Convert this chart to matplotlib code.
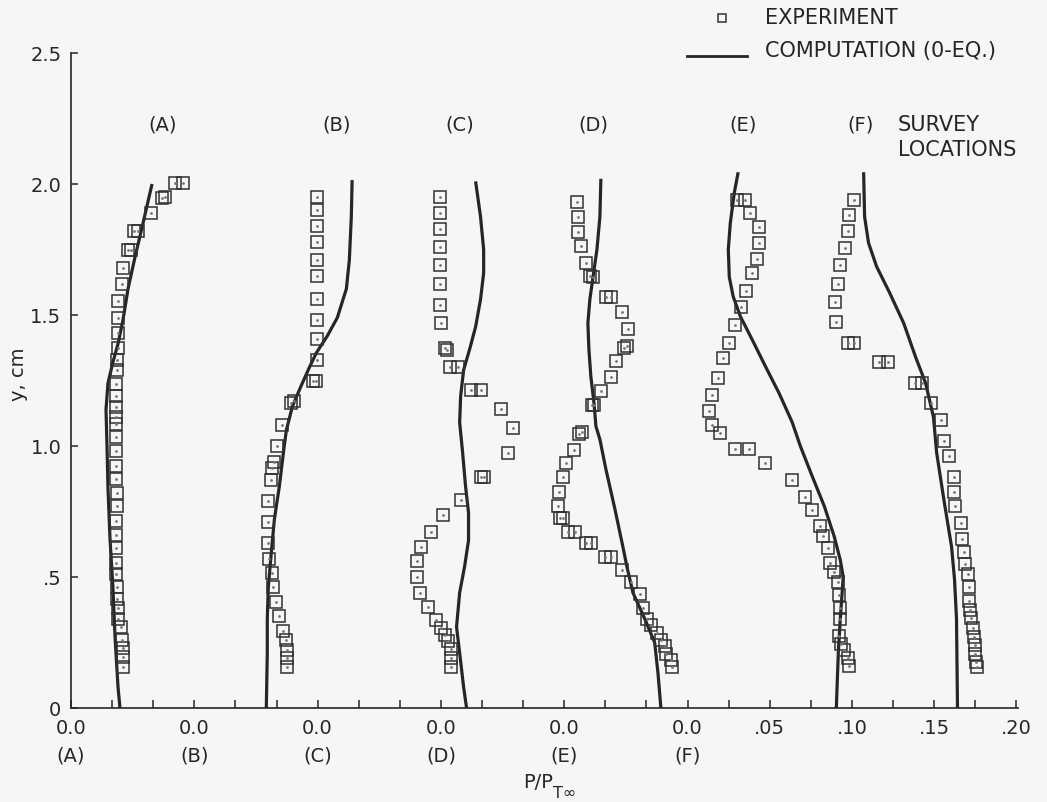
import numpy as np
import matplotlib
matplotlib.use('Agg')
import matplotlib.pyplot as plt
from matplotlib.lines import Line2D

# survey locations, each profile shifted by its own zero on the x axis
locations = ['A', 'B', 'C', 'D', 'E', 'F']
offsets = [0.0, 0.075, 0.15, 0.225, 0.30, 0.375]

# computation (0-eq.), x = P/PT_inf measured from each location's zero
calc_y_A = [0, 0.08, 0.27, 0.46, 0.65, 0.84, 1.0, 1.14, 1.24, 1.32, 1.39, 1.48, 1.60, 1.72, 1.85, 2.0]
calc_x_A = [0.0298, 0.0286, 0.0268, 0.0255, 0.0237, 0.0225, 0.0219, 0.0213, 0.0225, 0.0255, 0.0286,
            0.0316, 0.0347, 0.0389, 0.0438, 0.0493]
calc_y_B = [0, 0.21, 0.34, 0.46, 0.59, 0.72, 0.845, 1.0, 1.06, 1.15, 1.23, 1.30, 1.355, 1.42, 1.49,
            1.60, 1.71, 1.875, 2.015]
calc_x_B = [0.0438, 0.0444, 0.0444, 0.045, 0.0468, 0.0487, 0.0517, 0.0547, 0.056, 0.0596, 0.065, 0.070,
            0.0742, 0.0809, 0.087, 0.0925, 0.0943, 0.0955, 0.096]
calc_y_C = [0, 0.08, 0.21, 0.31, 0.44, 0.54, 0.64, 0.745, 0.845, 0.975, 1.09, 1.19, 1.29, 1.37, 1.455,
            1.56, 1.66, 1.75, 1.875, 2.01]
calc_x_C = [0.0906, 0.0888, 0.0864, 0.0845, 0.0864, 0.0894, 0.0918, 0.0918, 0.090, 0.0882, 0.0864, 0.087,
            0.0888, 0.0925, 0.0961, 0.0991, 0.101, 0.101, 0.0991, 0.0961]
calc_y_D = [0, 0.135, 0.25, 0.34, 0.44, 0.54, 0.615, 0.76, 0.91, 1.025, 1.075, 1.165, 1.265, 1.37, 1.47,
            1.56, 1.645, 1.75, 1.875, 2.02]
calc_x_D = [0.1338, 0.132, 0.130, 0.124, 0.1168, 0.1131, 0.1107, 0.1058, 0.1004, 0.0967, 0.0943, 0.0931,
            0.0912, 0.090, 0.0894, 0.0906, 0.0925, 0.0949, 0.0967, 0.0973]
calc_y_E = [0, 0.21, 0.34, 0.50, 0.565, 0.655, 0.77, 0.885, 1.0, 1.09, 1.20, 1.305, 1.405, 1.495, 1.57,
            1.645, 1.75, 1.85, 1.965, 2.045]
calc_x_E = [0.1655, 0.1667, 0.1679, 0.1697, 0.1679, 0.1642, 0.1582, 0.1508, 0.1436, 0.1387, 0.1308, 0.1223,
            0.1144, 0.1071, 0.1028, 0.1004, 0.0998, 0.101, 0.1034, 0.1058]
calc_y_F = [0, 0.34, 0.49, 0.615, 0.78, 0.975, 1.11, 1.24, 1.34, 1.47, 1.585, 1.685, 1.775, 1.875, 2.045]
calc_x_F = [0.1642, 0.1636, 0.1624, 0.1606, 0.1563, 0.1515, 0.1496, 0.1448, 0.1387, 0.1314, 0.1229, 0.115,
            0.1101, 0.1077, 0.1071]

# experiment
exp_y_A = [2.005, 2.005, 1.95, 1.945, 1.89, 1.82, 1.82, 1.75, 1.75, 1.68, 1.62, 1.555, 1.49, 1.43, 1.375,
           1.33, 1.29, 1.235, 1.19, 1.15, 1.11, 1.085, 1.035, 0.98, 0.925, 0.875, 0.82, 0.77, 0.715, 0.66,
           0.61, 0.555, 0.51, 0.46, 0.415, 0.38, 0.34, 0.31, 0.26, 0.23, 0.195, 0.155]
exp_x_A = [0.0681, 0.0635, 0.0572, 0.0555, 0.0487, 0.0408, 0.0385, 0.0365, 0.0345, 0.0316, 0.031, 0.0286,
           0.0286, 0.0286, 0.0286, 0.028, 0.028, 0.0274, 0.0274, 0.0274, 0.0274, 0.0274, 0.0274, 0.0274,
           0.0274, 0.0274, 0.028, 0.028, 0.0274, 0.0274, 0.0274, 0.0274, 0.0274, 0.028, 0.028, 0.0286,
           0.0286, 0.0304, 0.031, 0.0316, 0.0316, 0.0316]
exp_y_B = [1.95, 1.90, 1.84, 1.78, 1.71, 1.65, 1.56, 1.48, 1.41, 1.33, 1.25, 1.25, 1.17, 1.165, 1.08, 1.0,
           0.94, 0.915, 0.87, 0.79, 0.71, 0.63, 0.57, 0.515, 0.46, 0.405, 0.35, 0.295, 0.26, 0.22, 0.19,
           0.155]
exp_x_B = [0.0748, 0.0748, 0.0748, 0.0748, 0.0748, 0.0748, 0.0748, 0.0748, 0.0748, 0.0748, 0.0742, 0.0725,
           0.0608, 0.059, 0.0535, 0.0505, 0.0487, 0.0474, 0.0468, 0.045, 0.045, 0.045, 0.0456, 0.0474,
           0.048, 0.0498, 0.0517, 0.0541, 0.056, 0.0566, 0.0566, 0.0566]
exp_y_C = [1.95, 1.89, 1.83, 1.76, 1.69, 1.62, 1.54, 1.47, 1.375, 1.365, 1.30, 1.30, 1.215, 1.215, 1.14,
           1.07, 0.975, 0.883, 0.883, 0.795, 0.735, 0.67, 0.615, 0.56, 0.50, 0.44, 0.385, 0.335, 0.305,
           0.28, 0.255, 0.225, 0.19, 0.155]
exp_x_C = [0.0742, 0.0742, 0.0742, 0.0742, 0.0742, 0.0742, 0.0742, 0.0748, 0.0773, 0.0785, 0.0803, 0.0852,
           0.0931, 0.0991, 0.1113, 0.1186, 0.1156, 0.0991, 0.1010, 0.087, 0.076, 0.0687, 0.0627, 0.0602,
           0.0602, 0.062, 0.0669, 0.0718, 0.0748, 0.0773, 0.0791, 0.0809, 0.0809, 0.0809]
exp_y_D = [1.93, 1.875, 1.815, 1.765, 1.70, 1.65, 1.645, 1.57, 1.57, 1.51, 1.445, 1.38, 1.375, 1.325,
           1.265, 1.21, 1.155, 1.155, 1.055, 1.045, 0.985, 0.935, 0.883, 0.825, 0.77, 0.725, 0.725, 0.67,
           0.67, 0.63, 0.63, 0.575, 0.575, 0.525, 0.48, 0.435, 0.38, 0.34, 0.315, 0.285, 0.26, 0.235,
           0.205, 0.185, 0.155]
exp_x_D = [0.0827, 0.0833, 0.0833, 0.0852, 0.0882, 0.0906, 0.0925, 0.1004, 0.1034, 0.1101, 0.1137, 0.1131,
           0.1115, 0.1064, 0.1034, 0.0973, 0.0931, 0.092, 0.0858, 0.0838, 0.0809, 0.076, 0.0742, 0.0718,
           0.0712, 0.0724, 0.0745, 0.0773, 0.0815, 0.0882, 0.0912, 0.0998, 0.1034, 0.1101, 0.1156, 0.121,
           0.1229, 0.1253, 0.1277, 0.1314, 0.1338, 0.1363, 0.1369, 0.1399, 0.1405]
exp_y_E = [1.94, 1.94, 1.89, 1.835, 1.775, 1.715, 1.66, 1.59, 1.53, 1.46, 1.395, 1.335, 1.26, 1.195,
           1.135, 1.08, 1.05, 0.99, 0.99, 0.935, 0.87, 0.805, 0.755, 0.695, 0.655, 0.61, 0.555, 0.52, 0.48,
           0.43, 0.38, 0.34, 0.275, 0.245, 0.22, 0.19, 0.16]
exp_x_E = [0.1052, 0.1101, 0.1131, 0.1186, 0.1186, 0.1174, 0.1144, 0.1107, 0.1077, 0.104, 0.1004, 0.0967,
           0.0937, 0.090, 0.0882, 0.090, 0.0949, 0.104, 0.1125, 0.1223, 0.1387, 0.1466, 0.1508, 0.1557,
           0.1575, 0.1606, 0.1618, 0.1642, 0.1667, 0.1673, 0.1679, 0.1679, 0.1673, 0.1685, 0.1703, 0.1727,
           0.1734]
exp_y_F = [1.94, 1.88, 1.82, 1.755, 1.69, 1.62, 1.55, 1.475, 1.395, 1.395, 1.32, 1.32, 1.24, 1.24, 1.165,
           1.10, 1.02, 0.96, 0.88, 0.825, 0.77, 0.705, 0.645, 0.595, 0.55, 0.51, 0.46, 0.41, 0.375, 0.345,
           0.305, 0.27, 0.24, 0.205, 0.175, 0.155]
exp_x_F = [0.101, 0.0985, 0.0973, 0.0955, 0.0925, 0.0918, 0.0894, 0.0906, 0.0979, 0.1015, 0.1162, 0.1222,
           0.1381, 0.1425, 0.1478, 0.1539, 0.1557, 0.1588, 0.1618, 0.1618, 0.1624, 0.1661, 0.1667, 0.1679,
           0.1685, 0.1703, 0.1709, 0.1715, 0.1721, 0.1727, 0.1734, 0.174, 0.1746, 0.1746, 0.1752, 0.1758]

calc = {'A': (calc_x_A, calc_y_A), 'B': (calc_x_B, calc_y_B), 'C': (calc_x_C, calc_y_C),
        'D': (calc_x_D, calc_y_D), 'E': (calc_x_E, calc_y_E), 'F': (calc_x_F, calc_y_F)}
expt = {'A': (exp_x_A, exp_y_A), 'B': (exp_x_B, exp_y_B), 'C': (exp_x_C, exp_y_C),
        'D': (exp_x_D, exp_y_D), 'E': (exp_x_E, exp_y_E), 'F': (exp_x_F, exp_y_F)}

# tick labels along the bottom
x_ticks = np.round(np.arange(24) * 0.025, 3)
extra_labels = {0.425: '.05', 0.475: '.10', 0.525: '.15', 0.575: '.20'}
y_ticks = [0, 0.5, 1.0, 1.5, 2.0, 2.5]
y_labels = ['0', '.5', '1.0', '1.5', '2.0', '2.5']
# label positions of the survey location tags above the profiles
tag_x = [0.056, 0.1618, 0.2366, 0.3175, 0.4088, 0.4805]

ink = '#262626'
bg = '#f6f6f6'
plt.rcParams['font.family'] = 'DejaVu Sans'

fig = plt.figure(figsize=(10.47, 8.02), dpi=100, facecolor=bg)
ax = fig.add_axes([0.0678, 0.1172, 0.9045, 0.8167])
ax.set_facecolor(bg)

for loc, off in zip(locations, offsets):
    cx, cy = calc[loc]
    ax.plot(off + np.array(cx), cy, color=ink, lw=2.3, solid_capstyle='butt')
    ex, ey = expt[loc]
    ax.plot(off + np.array(ex), ey, ls='none', marker='s', ms=9, mfc='none', mec='#303030', mew=1.1)
    ax.plot(off + np.array(ex), ey, ls='none', marker='.', ms=2, color='#777777')

ax.set_xlim(0, 0.576)
ax.set_ylim(0, 2.5)
for s in ['top', 'right']:
    ax.spines[s].set_visible(False)
for s in ['left', 'bottom']:
    ax.spines[s].set_color(ink)
    ax.spines[s].set_linewidth(1.2)

labels = []
for t in x_ticks:
    if t in offsets:
        labels.append('0.0\n(' + locations[offsets.index(t)] + ')')
    else:
        labels.append(extra_labels.get(t, ''))
ax.set_xticks(x_ticks)
ax.set_xticklabels(labels, fontsize=14, color=ink, va='top')
for lab in ax.get_xticklabels():
    lab.set_linespacing(1.55)
ax.set_yticks(y_ticks)
ax.set_yticklabels(y_labels, fontsize=14, color=ink)
ax.tick_params(axis='x', direction='in', length=6, width=1.1, pad=8, colors=ink)
ax.tick_params(axis='y', direction='in', length=5, width=1.1, pad=7, colors=ink)

ax.set_ylabel('y, cm', fontsize=14, color=ink)
ax.yaxis.set_label_coords(-0.045, 0.51)

# x label: P/P with subscript T-infinity
fig.text(553 / 1047, 1 - 782 / 802, 'P/P', fontsize=14, color=ink, ha='right', va='center')
fig.text(553 / 1047, 1 - 793 / 802, 'T\u221e', fontsize=11.5, color=ink, ha='left', va='center')

for loc, tx in zip(locations, tag_x):
    ax.text(tx, 2.226, '(' + loc + ')', fontsize=14, color=ink, ha='center', va='center')
ax.text(0.503, 2.226, 'SURVEY', fontsize=15, color=ink, ha='left', va='center')
ax.text(0.503, 2.13, 'LOCATIONS', fontsize=15, color=ink, ha='left', va='center')

# legend drawn in figure pixels
fig.add_artist(Line2D([722 / 1047], [1 - 18 / 802], transform=fig.transFigure, ls='none', marker='s',
                      ms=6, mfc='none', mec='#303030', mew=1.1))
fig.add_artist(Line2D([687 / 1047, 747 / 1047], [1 - 56 / 802, 1 - 56 / 802], transform=fig.transFigure,
                      color=ink, lw=2))
fig.text(765 / 1047, 1 - 18 / 802, 'EXPERIMENT', fontsize=15, color=ink, ha='left', va='center')
fig.text(765 / 1047, 1 - 51 / 802, 'COMPUTATION (0-EQ.)', fontsize=15, color=ink, ha='left', va='center')

fig.savefig('out.png', dpi=100, facecolor=bg)
